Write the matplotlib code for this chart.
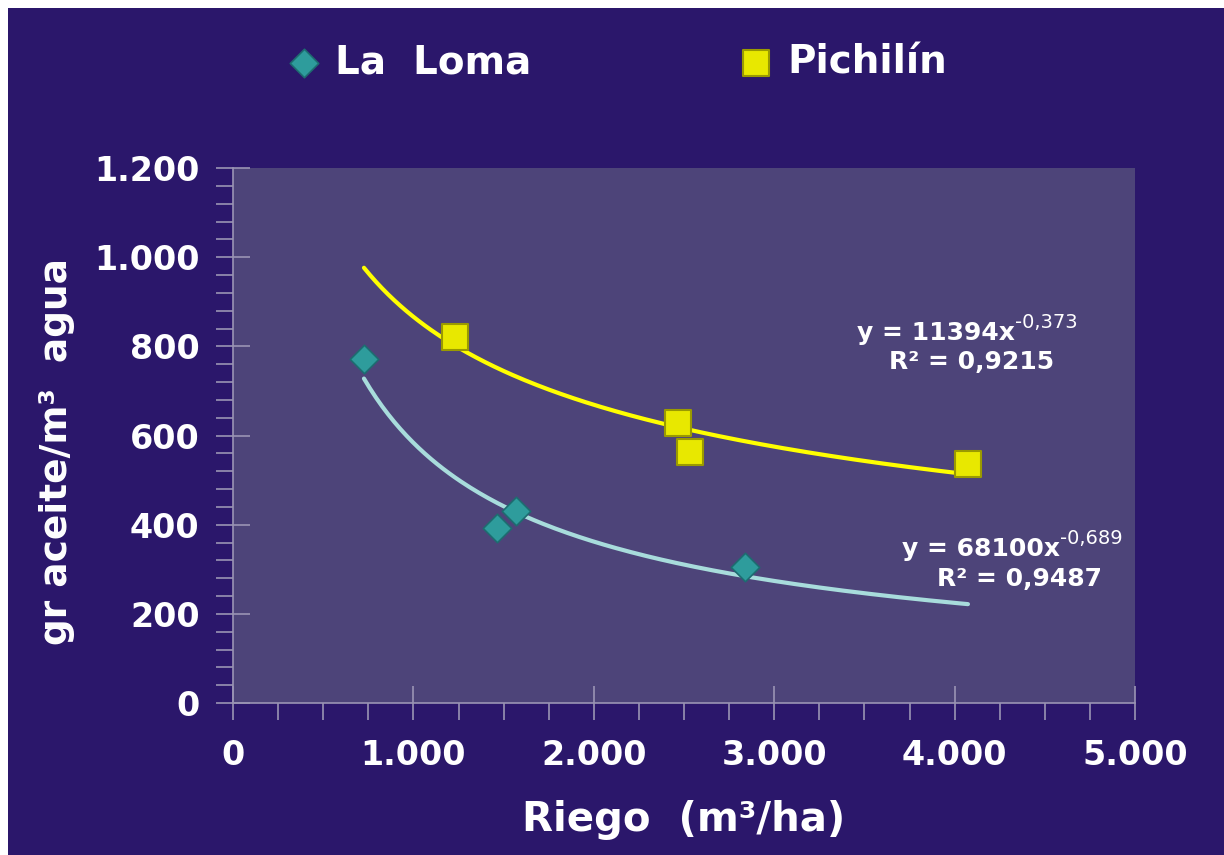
import numpy as np
import matplotlib.pyplot as plt
from matplotlib.patches import Rectangle
from matplotlib.ticker import MultipleLocator, FuncFormatter

# data
loma_x = [726, 1463, 1569, 2838]
loma_y = [771, 392, 430, 305]
pich_x = [1231, 2467, 2533, 4074]
pich_y = [821, 628, 563, 536]

# power trendlines shown on the chart
loma_a, loma_b = 68100, -0.689
pich_a, pich_b = 11394, -0.373
trend_x0, trend_x1 = 726, 4074

navy = '#2b176b'
panel = '#4d4479'
axcol = '#9a94b4'

plt.rcParams['font.family'] = ['DejaVu Sans']
plt.rcParams['font.weight'] = 'bold'

fig = plt.figure(figsize=(12.24, 8.55), dpi=100)
fig.patch.set_facecolor('white')
fig.add_artist(Rectangle((8 / 1224, 0), 1, 1 - 8 / 855, transform=fig.transFigure,
                         facecolor=navy, edgecolor='none', zorder=-10))

ax = fig.add_axes([233 / 1224, 1 - 703 / 855, 902 / 1224, 535 / 855])
ax.set_facecolor(panel)
ax.set_xlim(0, 5000)
ax.set_ylim(0, 1200)
for s in ['top', 'right']:
    ax.spines[s].set_visible(False)
for s in ['left', 'bottom']:
    ax.spines[s].set_color(axcol)
    ax.spines[s].set_linewidth(1.2)

ax.xaxis.set_major_locator(MultipleLocator(1000))
ax.xaxis.set_minor_locator(MultipleLocator(250))
ax.yaxis.set_major_locator(MultipleLocator(200))
ax.yaxis.set_minor_locator(MultipleLocator(40))
fmt = FuncFormatter(lambda v, p: f'{v:,.0f}'.replace(',', '.'))
ax.xaxis.set_major_formatter(fmt)
ax.yaxis.set_major_formatter(fmt)
ax.tick_params(which='major', direction='inout', length=24, width=1.2, color=axcol,
               labelcolor='white', labelsize=24)
ax.tick_params(which='minor', direction='out', length=12, width=1.2, color=axcol)
ax.tick_params(axis='x', which='major', pad=14)
ax.tick_params(axis='y', which='major', pad=12)
for lab in ax.get_xticklabels() + ax.get_yticklabels():
    lab.set_fontweight('heavy')

tx = np.linspace(trend_x0, trend_x1, 200)
ax.plot(tx, loma_a * tx ** loma_b, color='#a8dcdc', lw=3, solid_capstyle='round', zorder=2)
ax.plot(tx, pich_a * tx ** pich_b, color='#ffff00', lw=3, solid_capstyle='round', zorder=2)

h1 = ax.scatter(loma_x, loma_y, marker='D', s=210, color='#2e9c9c', edgecolors='#1d6c70',
                linewidths=1.2, zorder=3, label='La  Loma')
h2 = ax.scatter(pich_x, pich_y, marker='s', s=330, color='#e8e800', edgecolors='#9a9a00',
                linewidths=1.5, zorder=3, label='Pichilín')

fig.legend(handles=[h1, h2], loc='center', bbox_to_anchor=(0.503, 1 - 62 / 855), ncol=2,
           frameon=False, prop={'size': 28, 'weight': 'bold'}, labelcolor='white',
           columnspacing=5.3, handletextpad=0.3, handlelength=1.0, markerscale=1.0)

ax.set_xlabel('Riego  (m³/ha)', color='white', fontsize=29, fontweight='bold', labelpad=20)
ax.set_ylabel('gr aceite/m³  agua', color='white', fontsize=27, fontweight='bold', labelpad=22)
ax.yaxis.set_label_coords(-0.175, 0.47)

# equations
t1 = ax.text(4335, 829, 'y = 11394x', color='white', fontsize=18, ha='right', va='center')
ax.annotate('-0,373', xy=(1, 0.55), xycoords=t1, color='white', fontsize=14,
            fontweight='normal', ha='left', va='bottom')
ax.text(4096, 765, 'R² = 0,9215', color='white', fontsize=18, ha='center', va='center')

t2 = ax.text(4584, 345, 'y = 68100x', color='white', fontsize=18, ha='right', va='center')
ax.annotate('-0,689', xy=(1, 0.55), xycoords=t2, color='white', fontsize=14,
            fontweight='normal', ha='left', va='bottom')
ax.text(4357, 278, 'R² = 0,9487', color='white', fontsize=18, ha='center', va='center')

fig.savefig('out.png', dpi=100, facecolor=fig.get_facecolor())
